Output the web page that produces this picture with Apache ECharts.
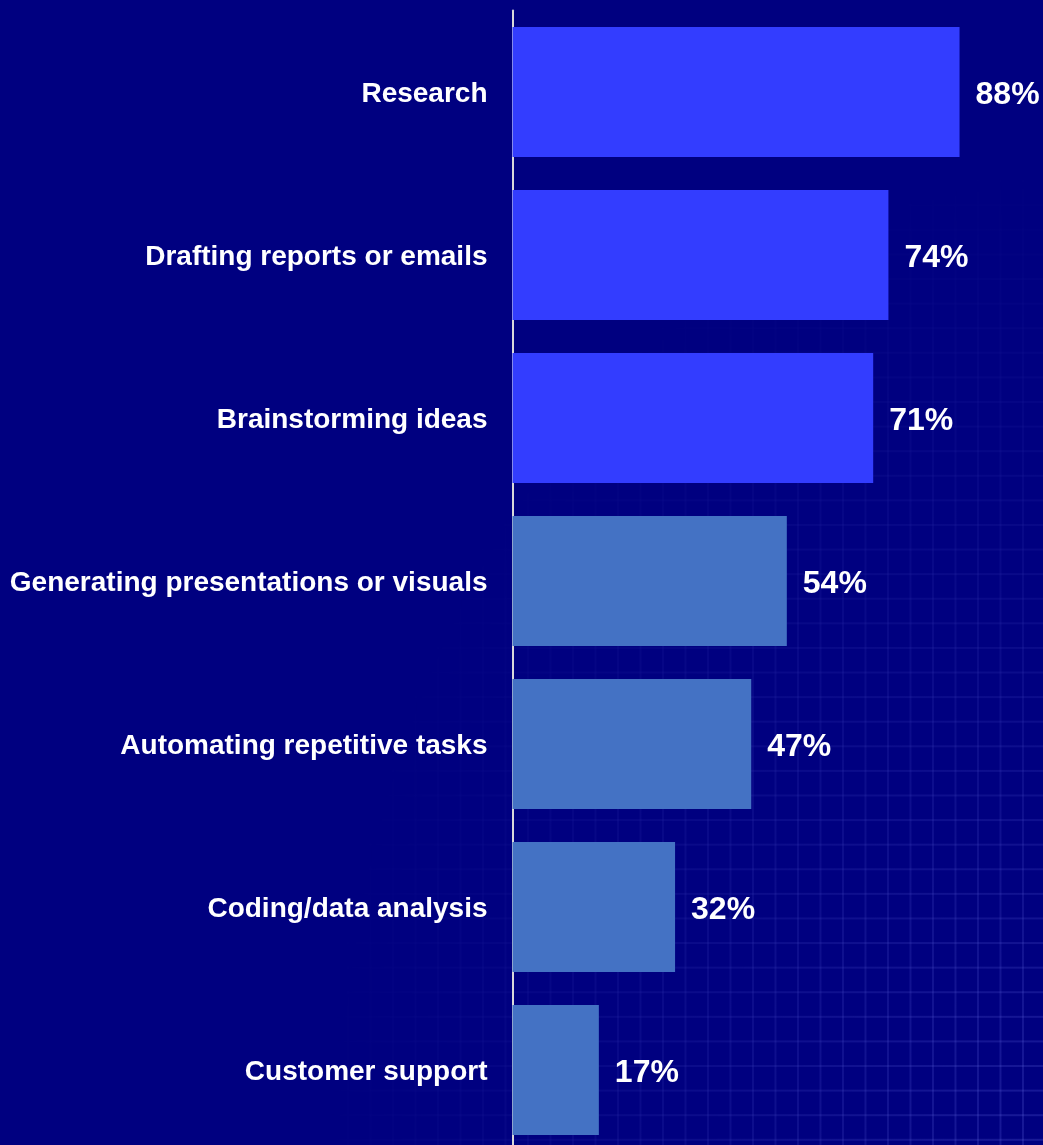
<!DOCTYPE html>
<html>
<head>
<meta charset="utf-8">
<script src="https://cdn.jsdelivr.net/npm/echarts@6/dist/echarts.min.js"></script>
<style>
html, body { margin:0; padding:0; width:1043px; height:1145px; overflow:hidden; background:#000080; }
#bg { position:absolute; left:0; top:0; width:1043px; height:1145px;
  background-image:
    linear-gradient(to right, rgba(110,115,235,0.22) 2px, transparent 2px),
    linear-gradient(to bottom, rgba(110,115,235,0.22) 2px, transparent 2px);
  background-size: 22.5px 24.6px;
  background-position: 9.5px 7.5px;
  -webkit-mask-image: radial-gradient(ellipse 720px 980px at 100% 100%, rgba(0,0,0,1) 0%, rgba(0,0,0,0.5) 45%, rgba(0,0,0,0) 100%);
  mask-image: radial-gradient(ellipse 720px 980px at 100% 100%, rgba(0,0,0,1) 0%, rgba(0,0,0,0.5) 45%, rgba(0,0,0,0) 100%);
}
#chart { position:absolute; left:0; top:0; width:1043px; height:1160px; }
</style>
</head>
<body>
<div id="bg"></div>
<div id="chart"></div>
<script>
const categories = [
  'Research',
  'Drafting reports or emails',
  'Brainstorming ideas',
  'Generating presentations or visuals',
  'Automating repetitive tasks',
  'Coding/data analysis',
  'Customer support'
];
const values = [88, 74, 71, 54, 47, 32, 17];
const highlightCount = 3;

const chart = echarts.init(document.getElementById('chart'), null, { renderer: 'canvas' });
const font = "Arial, 'Liberation Sans', sans-serif";
chart.setOption({
  backgroundColor: 'transparent',
  animation: false,
  grid: { left: 512.5, width: 508, top: 10.5, height: 1141, containLabel: false },
  xAxis: {
    type: 'value', min: 0, max: 100, show: false
  },
  yAxis: {
    type: 'category', data: categories, inverse: true,
    axisLine: { show: true, lineStyle: { color: '#d9d9d9', width: 2 } },
    axisTick: { show: false },
    splitLine: { show: false },
    axisLabel: {
      color: '#ffffff', margin: 25,
      formatter: function (v) { return '{c|' + v + '}'; },
      rich: { c: { color: '#ffffff', fontSize: 28, fontWeight: 'bold', fontFamily: font, padding: [5, 0, 0, 0] } }
    }
  },
  series: [{
    type: 'bar',
    data: values,
    barWidth: 130,
    itemStyle: {
      color: function (p) { return p.dataIndex < highlightCount ? '#333DFF' : '#4472C4'; }
    },
    label: {
      show: true, position: 'right', distance: 16, offset: [0, 3],
      formatter: '{c}%', color: '#ffffff', fontSize: 32, fontWeight: 'bold', fontFamily: font
    }
  }]
});
</script>
</body>
</html>
